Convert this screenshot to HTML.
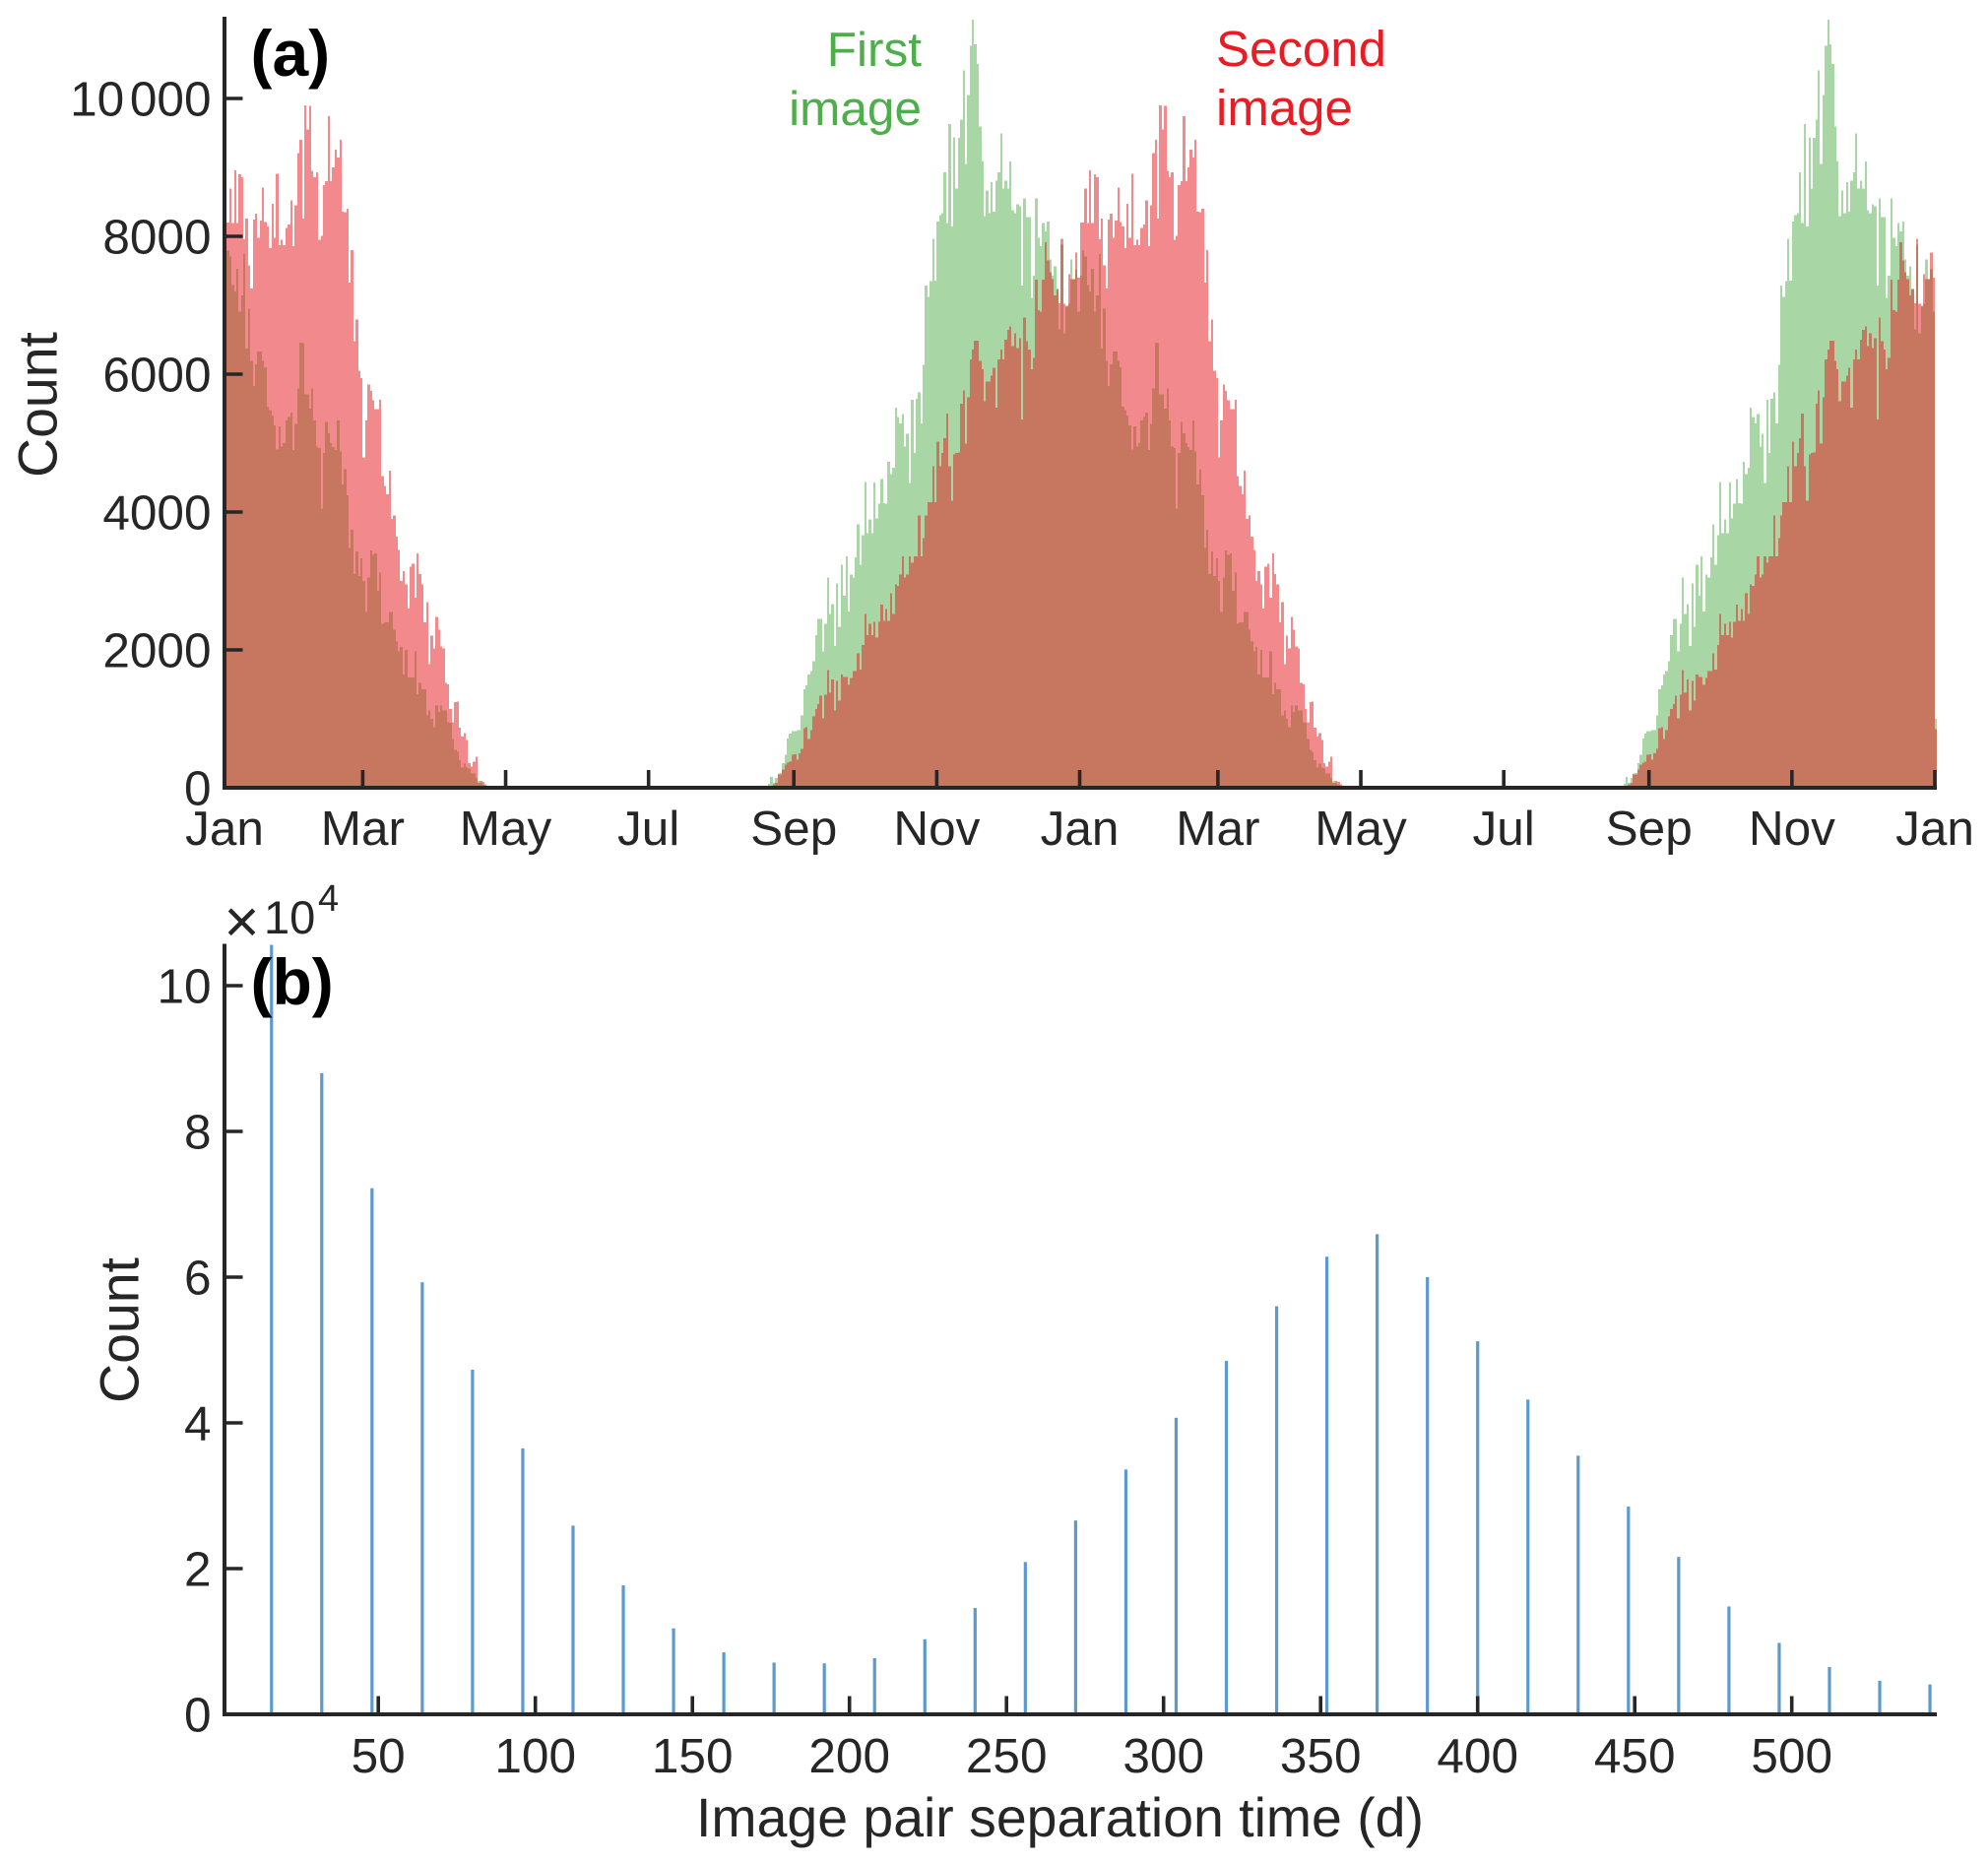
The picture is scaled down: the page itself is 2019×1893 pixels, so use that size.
<!DOCTYPE html>
<html lang="en">
<head>
<meta charset="utf-8">
<title>Image pair histograms</title>
<style>
html,body{margin:0;padding:0;background:#fff}
svg{display:block}
text{font-family:"Liberation Sans",Arial,sans-serif;fill:#262626}
</style>
</head>
<body>
<svg id="chart" xmlns="http://www.w3.org/2000/svg" width="2019" height="1893" viewBox="0 0 2019 1893">
  <g id="panel-a">
    <g id="bars-first"></g>
    <g id="bars-second"></g>
    <g id="axes-a"></g>
    <text x="254.5" y="77" font-size="66" font-weight="bold" style="fill:#000">(a)</text>
    <text x="936" y="67" font-size="49.5" text-anchor="end" style="fill:#4daf4a">First</text>
    <text x="936" y="127" font-size="49.5" text-anchor="end" style="fill:#4daf4a">image</text>
    <text x="1235" y="67" font-size="51" style="fill:#e91c24">Second</text>
    <text x="1235" y="127" font-size="51" style="fill:#e91c24">image</text>
    <text transform="translate(57.5 411) rotate(-90)" font-size="55.4" text-anchor="middle">Count</text>
  </g>
  <g id="panel-b">
    <g id="bars-separation"></g>
    <g id="axes-b"></g>
    <text x="254.5" y="1020" font-size="66" font-weight="bold" style="fill:#000">(b)</text>
    <text x="245.5" y="957" font-size="62" text-anchor="middle" font-weight="normal">×</text>
    <text x="268" y="948" font-size="47">10</text>
    <text x="323" y="925" font-size="38">4</text>
    <text transform="translate(140.5 1351) rotate(-90)" font-size="55.4" text-anchor="middle">Count</text>
    <text x="1076.5" y="1865" font-size="55.4" text-anchor="middle">Image pair separation time (d)</text>
  </g>
</svg>
<script>
// Panel (a): daily counts, repeating each year. "Spring" runs from day 0; "autumn" starts at the stated day of year.
const firstImageSpringStart = 0;
const firstImageSpring = [7430,7790,7710,7290,7200,7530,6905,7140,7740,6370,6950,6190,5830,6140,6330,6330,6190,6100,5530,5480,5400,5260,4910,5240,4950,5000,5330,5380,5440,4900,5280,5790,6460,6450,5710,5710,5500,5790,5330,4950,4930,4050,4860,5310,5140,5000,4940,4900,5330,4880,4400,4620,4240,3480,3740,3100,3430,3070,3330,3000,2550,3050,3440,3380,3400,2860,3120,2380,2400,2400,2550,2550,2290,2120,1980,2040,1640,2000,1600,1600,1600,1980,1360,1520,1430,1430,1050,1120,1000,880,1190,1100,1190,1120,1120,950,940,710,550,520,400,290,350,290,280,210,210,140,100,70,40,25,10];
const firstImageAutumnStart = 228;
const firstImageAutumn = [5,10,15,30,60,157,70,140,205,215,357,476,714,786,824,824,833,833,1048,1430,1486,1643,1690,1833,2214,2452,2452,1976,2380,3048,2524,2667,2057,2962,2333,3238,2786,3357,2557,3095,3048,3343,3819,3238,3667,4438,3690,3895,3690,4429,3905,4119,4476,4130,4119,4729,4548,4643,5514,5381,5286,5419,4952,5133,4419,5629,4857,5643,5738,5286,6133,7286,7119,7352,7967,7357,8214,8310,8333,8929,8190,9629,8143,9438,8690,9429,9690,10405,9048,10048,10762,11143,10786,10500,9595,9095,8295,8667,8333,8786,8357,8810,8929,9490,8690,8810,8690,9086,8381,8333,8467,8438,7286,8548,8276,8276,7105,7429,8548,7976,7857,8190,8071,8214,7667,7429,7562,7238,6650,7876,6595,6976,7024,7667,7381,7524,6905];
const secondImageSpringStart = 0;
const secondImageSpring = [8200,8200,8690,8190,8960,8190,8900,8860,7960,8260,7580,7240,8240,8330,7980,8230,8710,8210,8140,7830,8470,7980,8910,7870,7950,7870,8120,8170,8520,7860,8450,9210,9400,8260,9900,9550,9890,8950,8860,8930,7950,8010,8740,8800,9740,8800,9000,9260,9140,9400,8360,8350,8400,7330,7800,6480,6790,6050,5940,4790,5330,5850,5760,5620,5490,5490,5630,4520,4380,4260,4600,3900,3950,3640,3450,3000,3140,2950,2600,3210,3250,2760,3400,3100,2950,2400,2690,1790,2210,2020,2480,2290,2050,2020,1520,1500,1140,950,1240,1250,870,740,790,690,360,310,380,450,70,100,85,50,25];
const secondImageAutumnStart = 234;
const secondImageAutumn = [48,71,190,190,262,333,367,381,476,486,405,500,562,867,881,705,833,1038,1143,1214,1333,1010,1348,1705,1381,1571,1119,1548,1262,1643,1610,1610,1490,1595,1690,1690,1952,1714,2071,2524,2214,2381,2214,2405,2181,2405,2657,2419,2595,2419,2819,2524,2952,2929,3095,3357,3048,3095,3357,3262,3357,3357,3952,3357,3619,3952,4143,4143,4667,4143,5024,4667,4857,5071,5429,4667,4167,4833,4857,4867,5571,5762,4990,5667,6214,6357,6486,6486,6190,6071,5610,5895,5895,5976,6095,5514,6214,6357,6214,6500,6643,6690,6405,6595,6381,6524,5343,6824,6476,6357,6071,6238,7371,6929,6905,7371,7914,7648,7476,7381,7143,7238,7028,7962,7024,6990,7452,7381,7381,7762,7400];
const firstImageFinalBin = 1000;
const secondImageFinalBin = 850;
const yearsShown = 2;
const daysPerYear = 365;
const monthTickLabels = ['Jan','Mar','May','Jul','Sep','Nov','Jan','Mar','May','Jul','Sep','Nov','Jan'];
const monthTickDays = [0,59,120,181,243,304,365,424,485,546,608,669,730];
const countTicksA = [0,2000,4000,6000,8000,10000];
const countTickLabelsA = ['0','2000','4000','6000','8000','10 000'];

// Panel (b): counts (in units of 10^4) at each 16-day separation.
const separationDays = [16,32,48,64,80,96,112,128,144,160,176,192,208,224,240,256,272,288,304,320,336,352,368,384,400,416,432,448,464,480,496,512,528,544];
const separationCounts = [10.56,8.80,7.22,5.93,4.73,3.65,2.59,1.77,1.18,0.85,0.71,0.70,0.77,1.03,1.46,2.09,2.66,3.36,4.07,4.85,5.60,6.28,6.59,6.00,5.12,4.32,3.55,2.85,2.16,1.48,0.98,0.65,0.46,0.41];
const separationTicks = [50,100,150,200,250,300,350,400,450,500];
const countTicksB = [0,2,4,6,8,10];

const SVGNS = 'http://www.w3.org/2000/svg';
const ink = '#262626';

// Axis functions
function xDay(d){ return 228 + d * (1965 - 228) / 730; }
function yCountA(v){ return 800 - v * 0.07; }
function xSep(v){ return 224.7 + v * 3.19; }
function yCountB(v){ return 1741 - v * 74; }

function makeRect(parent, x, y, w, h, fill, opacity){
  const r = document.createElementNS(SVGNS, 'rect');
  r.setAttribute('x', x);
  r.setAttribute('y', y);
  r.setAttribute('width', w);
  r.setAttribute('height', h);
  r.setAttribute('fill', fill);
  if (opacity < 1) r.setAttribute('fill-opacity', opacity);
  parent.appendChild(r);
  return r;
}
function makeLine(parent, x1, y1, x2, y2, width){
  const l = document.createElementNS(SVGNS, 'line');
  l.setAttribute('x1', x1);
  l.setAttribute('y1', y1);
  l.setAttribute('x2', x2);
  l.setAttribute('y2', y2);
  l.setAttribute('stroke', ink);
  l.setAttribute('stroke-width', width);
  parent.appendChild(l);
  return l;
}
function makeText(parent, x, y, str, anchor){
  const t = document.createElementNS(SVGNS, 'text');
  t.setAttribute('x', x);
  t.setAttribute('y', y);
  t.setAttribute('font-size', '49.5');
  t.setAttribute('text-anchor', anchor);
  t.textContent = str;
  parent.appendChild(t);
  return t;
}
function valueForDay(dayOfYear, spring, springStart, autumn, autumnStart){
  const s = dayOfYear - springStart;
  if (s >= 0 && s < spring.length) return spring[s];
  const a = dayOfYear - autumnStart;
  if (a >= 0 && a < autumn.length) return autumn[a];
  return 0;
}
function drawSeason(parent, spring, springStart, autumn, autumnStart, finalBin, fill, barName){
  const total = yearsShown * daysPerYear;
  for (let d = 0; d <= total; d++){
    const v = d === total ? finalBin : valueForDay(d % daysPerYear, spring, springStart, autumn, autumnStart);
    if (v <= 0) continue;
    const x0 = Math.round(xDay(d));
    const x1 = Math.round(xDay(d + 1));
    const y = yCountA(v);
    const bar = makeRect(parent, x0, y, x1 - x0, yCountA(0) - y, fill, 0.5);
    bar.setAttribute('shape-rendering', 'crispEdges');
    
    
  }
}

drawSeason(document.getElementById('bars-first'), firstImageSpring, firstImageSpringStart, firstImageAutumn, firstImageAutumnStart, firstImageFinalBin, '#52b04b', 'first-image-bar');
drawSeason(document.getElementById('bars-second'), secondImageSpring, secondImageSpringStart, secondImageAutumn, secondImageAutumnStart, secondImageFinalBin, '#e6161c', 'second-image-bar');

// Panel (a) axes
const axesA = document.getElementById('axes-a');
const yAxisA = makeLine(axesA, 228, 17, 228, 802, 4);


const xAxisA = makeLine(axesA, 226, 800, 1967, 800, 4);


countTicksA.forEach(function(v, i){
  const y = yCountA(v);
  const tick = makeLine(axesA, 228, y, 246.5, y, 3.6);
  
  
  const label = makeText(axesA, 214.5, y + 17.5, countTickLabelsA[i], 'end');
  label.setAttribute('word-spacing', '-8');
  
  
});
monthTickDays.forEach(function(d, i){
  const x = xDay(d);
  const tick = makeLine(axesA, x, 800, x, 782, 3.6);
  
  
  const label = makeText(axesA, x, 858, monthTickLabels[i], 'middle');
  
  
});

// Panel (b) bars
const barsB = document.getElementById('bars-separation');
separationDays.forEach(function(day, i){
  const w = 3.2;
  const y = yCountB(separationCounts[i]);
  const bar = makeRect(barsB, xSep(day) - w / 2, y, w, yCountB(0) - y, '#5c99cf', 1);
  
  
});

// Panel (b) axes
const axesB = document.getElementById('axes-b');
const yAxisB = makeLine(axesB, 228, 958.5, 228, 1743, 4);


const xAxisB = makeLine(axesB, 226, 1741, 1967, 1741, 4);


countTicksB.forEach(function(v){
  const y = yCountB(v);
  const tick = makeLine(axesB, 228, y, 246.5, y, 3.6);
  
  
  const label = makeText(axesB, 214.5, y + 17.5, String(v), 'end');
  
  
});
separationTicks.forEach(function(v){
  const x = xSep(v);
  const tick = makeLine(axesB, x, 1741, x, 1722.5, 3.6);
  
  
  const label = makeText(axesB, x, 1800, String(v), 'middle');
  
  
});
</script>
</body>
</html>
